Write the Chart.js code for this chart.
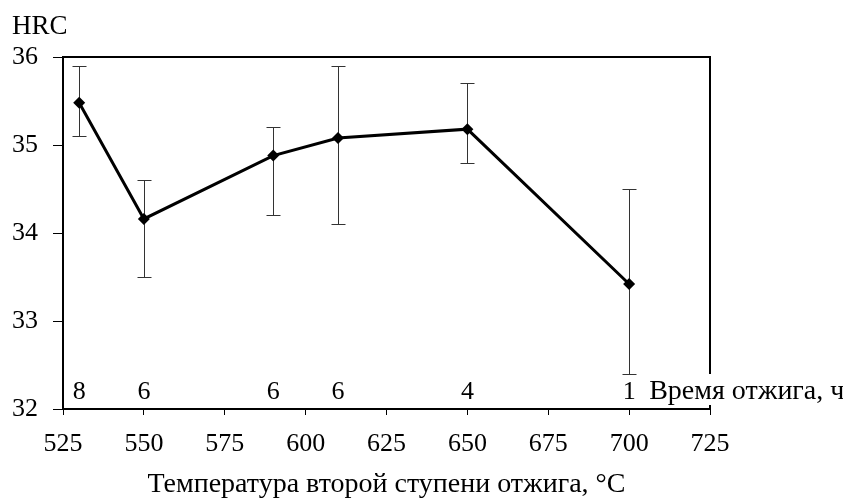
<!DOCTYPE html>
<html>
<head>
<meta charset="utf-8">
<script src="https://cdn.jsdelivr.net/npm/chart.js@4"></script>
<style>
    html, body { margin: 0; padding: 0; background: #ffffff; }
    #wrap { width: 843px; height: 499px; position: relative; }
</style>
</head>
<body>
<div id="wrap"><canvas id="hrcChart"></canvas></div>
<script>
// Temperature of the second annealing step, °C
const temps = [530, 550, 590, 610, 650, 700];
// Hardness HRC (mean) and spread
const hrc = [35.48, 34.16, 34.88, 35.08, 35.18, 33.42];
const errLow = [35.1, 33.5, 34.2, 34.1, 34.8, 32.4];
const errHigh = [35.9, 34.6, 35.2, 35.9, 35.7, 34.5];
// Annealing time, h (labels at the bottom)
const times = ['8', '6', '6', '6', '4', '1'];

const FONT = "'Liberation Serif', 'Times New Roman', serif";

const chartDecor = {
    id: 'chartDecor',
    beforeDatasetsDraw(chart) {
        const { ctx, scales: { x, y } } = chart;
        ctx.save();
        ctx.strokeStyle = '#333';
        ctx.lineWidth = 1;
        temps.forEach((t, i) => {
            const px = Math.round(x.getPixelForValue(t)) + 0.5;
            const top = Math.round(y.getPixelForValue(errHigh[i])) + 0.5;
            const bot = Math.round(y.getPixelForValue(errLow[i])) + 0.5;
            ctx.beginPath();
            ctx.moveTo(px, top); ctx.lineTo(px, bot);
            ctx.moveTo(px - 7, top); ctx.lineTo(px + 7, top);
            ctx.moveTo(px - 7, bot); ctx.lineTo(px + 7, bot);
            ctx.stroke();
        });
        ctx.restore();
    },
    afterDraw(chart) {
        const { ctx, chartArea: a, scales: { x, y } } = chart;
        ctx.save();
        // top and right frame
        ctx.strokeStyle = '#000';
        ctx.lineWidth = 2;
        ctx.beginPath();
        ctx.moveTo(a.left, a.top);
        ctx.lineTo(a.right, a.top);
        ctx.lineTo(a.right, a.bottom);
        ctx.stroke();

        ctx.fillStyle = '#000';

        // axis name
        ctx.font = `27px ${FONT}`;
        ctx.textAlign = 'left';
        ctx.textBaseline = 'alphabetic';
        ctx.fillText('HRC', 12, 34);

        // annealing time labels
        ctx.font = `26px ${FONT}`;
        const base = y.getPixelForValue(32) - 10;
        ctx.textAlign = 'center';
        temps.forEach((t, i) => {
            ctx.fillText(times[i], x.getPixelForValue(t), base);
        });

        // legend text for the time labels, on a white box
        ctx.font = `28px ${FONT}`;
        const label = 'Время отжига, ч';
        const lx = x.getPixelForValue(temps[temps.length - 1]) + 20;
        const w = ctx.measureText(label).width;
        ctx.fillStyle = '#fff';
        ctx.fillRect(lx - 3, base - 25, w + 6, 31);
        ctx.fillStyle = '#000';
        ctx.textAlign = 'left';
        ctx.fillText(label, lx, base);
        ctx.restore();
    }
};

new Chart(document.getElementById('hrcChart').getContext('2d'), {
    type: 'line',
    data: {
        datasets: [{
            data: temps.map((t, i) => ({ x: t, y: hrc[i] })),
            borderColor: '#000',
            backgroundColor: '#000',
            borderWidth: 3,
            tension: 0,
            pointStyle: 'rectRot',
            pointRadius: 6,
            pointBorderWidth: 0,
            pointBackgroundColor: '#000'
        }]
    },
    options: {
        responsive: true,
        maintainAspectRatio: false,
        animation: false,
        layout: { padding: { top: 57, right: 133, left: 0, bottom: 0 } },
        plugins: { legend: { display: false }, tooltip: { enabled: false } },
        scales: {
            x: {
                type: 'linear',
                min: 525,
                max: 725,
                afterFit(scale) { scale.height = 90; },
                ticks: {
                    stepSize: 25,
                    padding: 14,
                    color: '#000',
                    maxRotation: 0,
                    font: { family: FONT, size: 26 }
                },
                grid: { drawOnChartArea: false, tickLength: 6, color: '#000', lineWidth: 1 },
                border: { color: '#000', width: 2 },
                title: {
                    display: true,
                    text: 'Температура второй ступени отжига, °C',
                    color: '#000',
                    padding: 0,
                    font: { family: FONT, size: 28, lineHeight: 1 }
                }
            },
            y: {
                min: 32,
                max: 36,
                afterFit(scale) { scale.width = 63; },
                ticks: {
                    stepSize: 1,
                    padding: 15,
                    color: '#000',
                    font: { family: FONT, size: 26 }
                },
                grid: { drawOnChartArea: false, tickLength: 10, color: '#000', lineWidth: 1 },
                border: { color: '#000', width: 2 }
            }
        }
    },
    plugins: [chartDecor]
});
</script>
</body>
</html>
